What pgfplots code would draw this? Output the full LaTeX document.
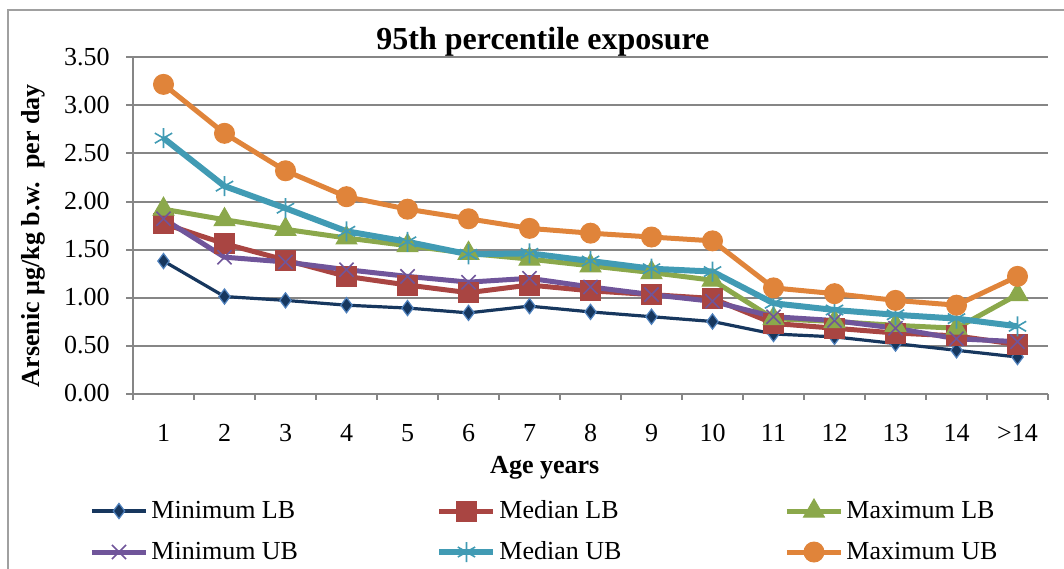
\documentclass[border=0pt]{standalone}
\usepackage{fontspec}
\setmainfont{Liberation Serif}
\usepackage{pgfplots}
\pgfplotsset{compat=1.18}
\definecolor{axisgray}{HTML}{868686}
\definecolor{framegray}{HTML}{A0A0A0}
\definecolor{cMinLB}{HTML}{17375E}
\definecolor{cMinLBedge}{HTML}{4F81BD}
\definecolor{cMedLB}{HTML}{A94542}
\definecolor{cMaxLB}{HTML}{8BA84B}
\definecolor{cMinUB}{HTML}{70559A}
\definecolor{cMedUB}{HTML}{419BB4}
\definecolor{cMaxUB}{HTML}{E0843A}
\begin{document}
\begin{tikzpicture}
\begin{axis}[
  at={(66.5pt,87.25pt)}, anchor=south west,
  scale only axis, width=457.5pt, height=168pt,
  xmin=0.5, xmax=15.5, ymin=0, ymax=3.5,
  axis lines*=left,
  axis line style={draw=axisgray, line width=1pt},
  ytick={0,0.5,...,3.5},
  ymajorgrids, grid style={draw=axisgray, line width=1pt},
  ytick align=outside, major tick length=3.5pt,
  major y tick style={draw=axisgray, line width=1pt},
  yticklabel style={/pgf/number format/.cd, fixed, fixed zerofill, precision=2, assume math mode=true, /tikz/.cd, xshift=-4.7pt},
  xtick={1,...,15},
  xticklabels={1,2,3,4,5,6,7,8,9,10,11,12,13,14,>14},
  major x tick style={draw=none},
  xticklabel style={yshift=-12pt},
  extra x ticks={0.5,1.5,...,15.5},
  extra x tick labels={},
  extra x tick style={grid=none, tick align=outside, major tick length=3pt, major x tick style={draw=axisgray, line width=1pt}},
  tick label style={font=\fontsize{13}{15}\selectfont},
  title={95th percentile exposure},
  title style={font=\fontsize{16}{19}\selectfont\bfseries, at={(axis description cs:0.448,1.010)}, anchor=center, yshift=0pt},
  xlabel={Age years},
  xlabel style={font=\fontsize{13}{15}\selectfont\bfseries, at={(axis description cs:0.450,-0.222)}, anchor=center},
  ylabel={Arsenic μg/kg b.w.\ \ per day},
  ylabel style={font=\fontsize{13}{15}\selectfont\bfseries, at={(axis description cs:-0.109,0.47)}, anchor=center},
  legend columns=3,
  legend cell align=left,
  legend style={at={(axis description cs:-0.048,-0.295)}, anchor=north west, draw=none, fill=none, inner sep=0pt, column sep=0pt, row sep=2.5pt,
    font=\fontsize{13}{15}\selectfont,
    nodes={text height=9.5pt, text depth=2.5pt, inner ysep=3pt, inner xsep=0pt}},
  legend image code/.code={\draw[mark repeat=2,mark phase=2,#1] plot coordinates {(0pt,0pt) (13.5pt,0pt) (27pt,0pt)};},
]
\addplot[cMinLB, line width=1.6pt, mark=diamond*, mark size=3.8pt, mark options={fill=cMinLB, draw=cMinLBedge, line width=0.6pt, solid}] coordinates {
(1,1.38) (2,1.01) (3,0.97) (4,0.92) (5,0.89) (6,0.84) (7,0.91) (8,0.85) (9,0.80) (10,0.75) (11,0.62) (12,0.59) (13,0.52) (14,0.45) (15,0.38)};
\addlegendentry{\makebox[144pt][l]{\hspace{1.5pt}Minimum LB}}
\addplot[cMedLB, line width=2.5pt, mark=square*, mark size=5pt, mark options={fill=cMedLB, draw=cMedLB, line width=0.5pt, solid}] coordinates {
(1,1.77) (2,1.56) (3,1.39) (4,1.22) (5,1.13) (6,1.05) (7,1.13) (8,1.07) (9,1.03) (10,0.99) (11,0.73) (12,0.68) (13,0.63) (14,0.60) (15,0.51)};
\addlegendentry{\makebox[144pt][l]{\hspace{1.5pt}Median LB}}
\addplot[cMaxLB, line width=2.5pt, mark=triangle*, mark size=6pt, mark options={fill=cMaxLB, draw=cMaxLB, line width=0.5pt, solid}] coordinates {
(1,1.92) (2,1.81) (3,1.71) (4,1.62) (5,1.54) (6,1.46) (7,1.40) (8,1.33) (9,1.26) (10,1.18) (11,0.78) (12,0.75) (13,0.71) (14,0.68) (15,1.03)};
\addlegendentry{\makebox[144pt][l]{\hspace{1.5pt}Maximum LB}}
\addplot[cMinUB, line width=2.5pt, mark=x, mark size=5pt, mark options={draw=cMinUB, line width=0.8pt, solid}] coordinates {
(1,1.82) (2,1.42) (3,1.37) (4,1.29) (5,1.22) (6,1.16) (7,1.20) (8,1.11) (9,1.03) (10,0.96) (11,0.80) (12,0.76) (13,0.68) (14,0.57) (15,0.54)};
\addlegendentry{\makebox[144pt][l]{\hspace{1.5pt}Minimum UB}}
\addplot[cMedUB, line width=3pt, mark=asterisk, mark size=5pt, mark options={draw=cMedUB, line width=0.8pt, solid}] coordinates {
(1,2.66) (2,2.16) (3,1.93) (4,1.69) (5,1.58) (6,1.45) (7,1.46) (8,1.38) (9,1.30) (10,1.27) (11,0.94) (12,0.87) (13,0.82) (14,0.78) (15,0.70)};
\addlegendentry{\makebox[144pt][l]{\hspace{1.5pt}Median UB}}
\addplot[cMaxUB, line width=2.5pt, mark=*, mark size=5pt, mark options={fill=cMaxUB, draw=cMaxUB, line width=0.5pt, solid}] coordinates {
(1,3.22) (2,2.71) (3,2.32) (4,2.05) (5,1.92) (6,1.82) (7,1.72) (8,1.67) (9,1.63) (10,1.59) (11,1.10) (12,1.04) (13,0.97) (14,0.92) (15,1.22)};
\addlegendentry{\makebox[144pt][l]{\hspace{1.5pt}Maximum UB}}
\end{axis}
\draw[framegray, line width=0.8pt] (4pt,-20pt) -- (4pt,279pt) -- (560pt,279pt);
\pgfresetboundingbox
\useasboundingbox (0pt,0pt) rectangle (532pt,284pt);
\end{tikzpicture}
\end{document}
